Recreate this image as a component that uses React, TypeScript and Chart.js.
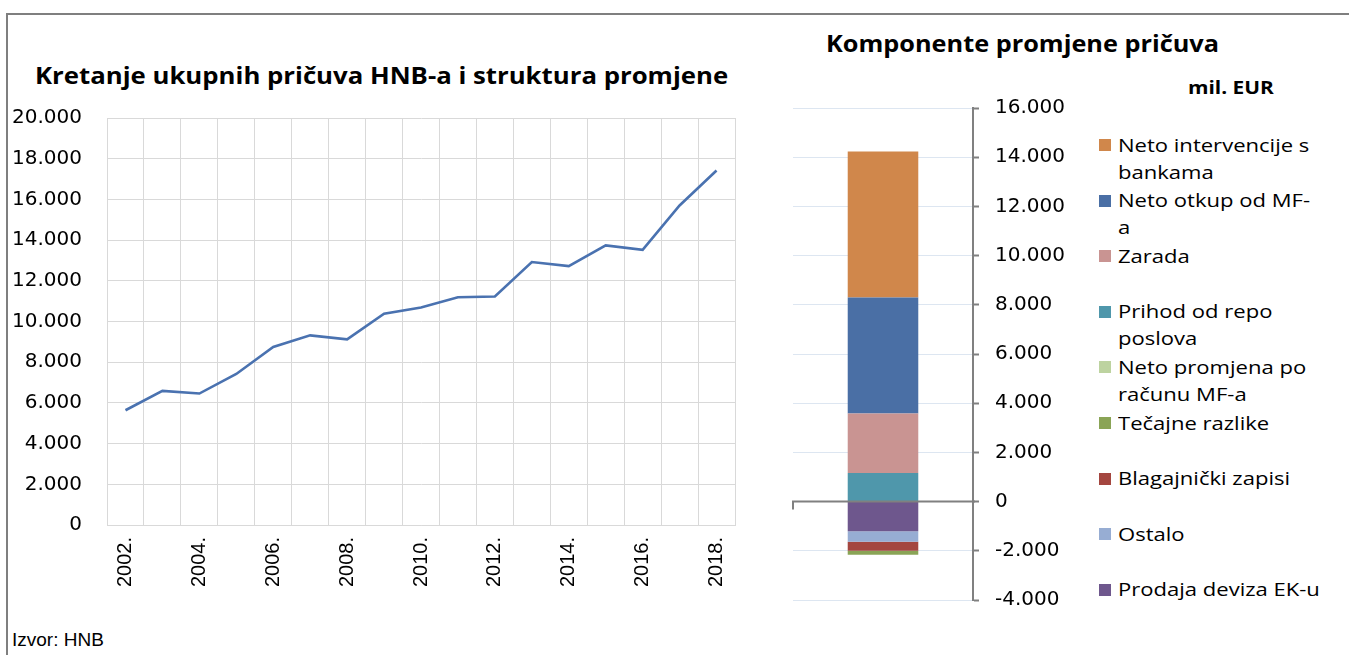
import React, { useEffect, useRef } from 'react';
import { Chart, registerables } from 'chart.js';

Chart.register(...registerables);

// ---------- data ----------
const years = ['2002.', '2003.', '2004.', '2005.', '2006.', '2007.', '2008.', '2009.', '2010.', '2011.', '2012.', '2013.', '2014.', '2015.', '2016.', '2017.', '2018.'];
const totalReserves = [5640, 6590, 6460, 7420, 8750, 9320, 9120, 10380, 10690, 11190, 11230, 12920, 12720, 13740, 13520, 15700, 17420];
const leftAxisMin = 0;
const leftAxisMax = 20000;
const leftAxisStep = 2000;

// legend order (top to bottom)
const componentLabels: string[][] = [
  ['Neto intervencije s', 'bankama'],
  ['Neto otkup od MF-', 'a'],
  ['Zarada'],
  ['Prihod od repo', 'poslova'],
  ['Neto promjena po', 'računu MF-a'],
  ['Tečajne razlike'],
  ['Blagajnički zapisi'],
  ['Ostalo'],
  ['Prodaja deviza EK-u'],
];
const componentValues = [5930, 4720, 2420, 1160, 0, -165, -365, -420, -1210];
const componentColors = ['#d0874b', '#4a6fa5', '#c99492', '#4f97ab', '#bdd3a0', '#8aa456', '#a4463f', '#97add3', '#6e578d'];
const rightAxisMin = -4000;
const rightAxisMax = 16000;
const rightAxisStep = 2000;

// ---------- helpers ----------
function fmt(v: number): string {
  if (v === 0) return '0';
  const sign = v < 0 ? '-' : '';
  const s = Math.abs(Math.round(v)).toString();
  return sign + s.replace(/\B(?=(\d{3})+(?!\d))/g, '.');
}

const zeroTickPlugin = {
  id: 'zeroTick',
  afterDraw(chart: any) {
    const y = chart.scales.y;
    const area = chart.chartArea;
    const y0 = y.getPixelForValue(0);
    const ctx = chart.ctx;
    ctx.save();
    ctx.strokeStyle = '#808080';
    ctx.lineWidth = 2;
    ctx.beginPath();
    ctx.moveTo(area.left, y0 + 8);
    ctx.lineTo(area.left, y0);
    ctx.lineTo(area.right + 2, y0);
    ctx.stroke();
    ctx.restore();
  },
};

function LineChart() {
  const ref = useRef<HTMLCanvasElement>(null);
  useEffect(() => {
    if (!ref.current) return;
    const chart = new Chart(ref.current, {
      type: 'line',
      data: {
        labels: years,
        datasets: [
          {
            data: totalReserves,
            borderColor: '#4a72b0',
            borderWidth: 2.6,
            pointRadius: 0,
            tension: 0,
            fill: false,
          },
        ],
      },
      options: {
        responsive: false,
        animation: false,
        layout: { padding: { left: 0, top: 18, right: 25, bottom: 0 } },
        plugins: { legend: { display: false }, tooltip: { enabled: false } },
        scales: {
          x: {
            type: 'category',
            offset: true,
            grid: { offset: true, color: '#d9d9d9', drawTicks: false },
            border: { color: '#d9d9d9' },
            ticks: {
              autoSkip: false,
              minRotation: 90,
              maxRotation: 90,
              padding: 12,
              color: '#000',
              font: { family: 'Liberation Sans', size: 20 },
              callback: function (this: any, val: any, index: number) {
                return index % 2 === 0 ? this.getLabelForValue(val) : '';
              },
            },
            afterFit: (scale: any) => {
              scale.height = 85;
              scale.paddingLeft = 0;
              scale.paddingRight = 0;
            },
          },
          y: {
            min: leftAxisMin,
            max: leftAxisMax,
            grid: { color: '#d9d9d9', drawTicks: false },
            border: { color: '#d9d9d9' },
            ticks: {
              stepSize: leftAxisStep,
              padding: 25,
              color: '#000',
              font: { family: 'DejaVu Sans', size: 20 },
              callback: (v: any) => fmt(Number(v)),
            },
            afterFit: (scale: any) => {
              scale.width = 107;
              scale.paddingTop = 0;
              scale.paddingBottom = 0;
            },
          },
        },
      } as any,
    });
    return () => chart.destroy();
  }, []);
  return <canvas ref={ref} width={760} height={510} style={{ position: 'absolute', left: 0, top: 100, width: 760, height: 510 }} />;
}

function BarChart() {
  const ref = useRef<HTMLCanvasElement>(null);
  useEffect(() => {
    if (!ref.current) return;
    // datasets in reverse legend order so the stacking matches the picture
    const order = componentLabels.map((_, i) => i).reverse();
    const chart = new Chart(ref.current, {
      type: 'bar',
      data: {
        labels: [''],
        datasets: order.map((i) => ({
          label: componentLabels[i].join(' '),
          data: [componentValues[i]],
          backgroundColor: componentColors[i],
          borderWidth: 0,
          barPercentage: 0.392,
          categoryPercentage: 1,
        })),
      },
      options: {
        responsive: false,
        animation: false,
        layout: { padding: { left: 13, top: 18, right: 0, bottom: 20 } },
        plugins: { legend: { display: false }, tooltip: { enabled: false } },
        scales: {
          x: { stacked: true, display: false },
          y: {
            stacked: true,
            position: 'right',
            min: rightAxisMin,
            max: rightAxisMax,
            grid: {
              color: (c: any) => (c.tick && c.tick.value === 0 ? 'rgba(0,0,0,0)' : '#dde6f1'),
              tickColor: '#808080',
              tickLength: 6,
              tickWidth: 2,
              lineWidth: 1,
            },
            border: { color: '#808080', width: 2 },
            ticks: {
              stepSize: rightAxisStep,
              padding: 16,
              color: '#000',
              font: { family: 'DejaVu Sans', size: 20 },
              callback: (v: any) => fmt(Number(v)),
            },
            afterFit: (scale: any) => {
              scale.width = 117;
              scale.paddingTop = 0;
              scale.paddingBottom = 0;
            },
          },
        },
      } as any,
      plugins: [zeroTickPlugin],
    });
    return () => chart.destroy();
  }, []);
  return <canvas ref={ref} width={310} height={530} style={{ position: 'absolute', left: 780, top: 90, width: 310, height: 530 }} />;
}

function Legend() {
  const top0 = 145;
  const step = 55.6;
  const lh = 27;
  return (
    <>
      {componentLabels.map((lines, i) => {
        const cy = top0 + i * step;
        return (
          <React.Fragment key={i}>
            <div
              style={{
                position: 'absolute',
                left: 1099,
                top: cy - 6,
                width: 12,
                height: 12,
                background: componentColors[i],
              }}
            />
            <div
              style={{
                position: 'absolute',
                left: 1118,
                top: cy - lh / 2,
                fontFamily: 'Open Sans',
                fontSize: 19,
                lineHeight: lh + 'px',
                color: '#000',
                whiteSpace: 'nowrap',
                transform: 'scaleX(1.16)',
                transformOrigin: 'left top',
              }}
            >
              {lines.map((l, j) => (
                <div key={j}>{l}</div>
              ))}
            </div>
          </React.Fragment>
        );
      })}
    </>
  );
}

export default function App() {
  const text = (content: string, left: number, cy: number, size: number, bold: boolean, family: string, sx = 1) => (
    <div
      style={{
        position: 'absolute',
        left,
        top: cy - size * 0.7,
        fontFamily: family,
        fontSize: size,
        fontWeight: bold ? 700 : 400,
        lineHeight: size * 1.4 + 'px',
        whiteSpace: 'nowrap',
        color: '#000',
        transform: `scaleX(${sx})`,
        transformOrigin: 'left top',
      }}
    >
      {content}
    </div>
  );
  return (
    <div style={{ position: 'fixed', left: 0, top: 0, width: 1349, height: 655, background: '#fff', overflow: 'hidden' }}>
      <div
        style={{
          position: 'absolute',
          left: 6,
          top: 13,
          width: 1360,
          height: 700,
          borderLeft: '2px solid #7f7f7f',
          borderTop: '2px solid #7f7f7f',
        }}
      />
      {text('Kretanje ukupnih pričuva HNB-a i struktura promjene', 35, 75, 23, true, 'Open Sans', 1.12)}
      {text('Komponente promjene pričuva', 826, 43, 23, true, 'Open Sans', 1.1)}
      {text('mil. EUR', 1188, 88, 18, true, 'Open Sans', 1.16)}
      {text('Izvor: HNB', 12, 640, 19, false, 'Liberation Sans', 1)}
      <LineChart />
      <BarChart />
      <Legend />
    </div>
  );
}
